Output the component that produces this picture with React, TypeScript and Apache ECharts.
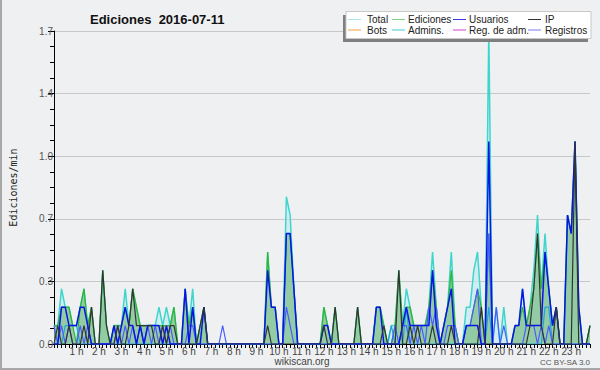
import React, { useEffect, useRef } from "react";
import * as echarts from "echarts";

// 10-minute bins, 144 per day (edits per minute)
const total = [
  0.1, 0.1, 0.3, 0.2, 0.2, 0.1,
  0.1, 0.2, 0.3, 0.1, 0.2, 0,
  0, 0.4, 0.1, 0, 0.1, 0.1,
  0.1, 0.3, 0.1, 0.3, 0.2, 0.1,
  0.1, 0.1, 0.1, 0.1, 0.2, 0.1,
  0.2, 0.1, 0.2, 0, 0, 0.3,
  0.1, 0.3, 0, 0.1, 0.2, 0,
  0, 0, 0, 0, 0, 0,
  0, 0, 0, 0, 0, 0,
  0, 0, 0, 0.5, 0.2, 0.2,
  0, 0, 0.8, 0.7, 0.3, 0,
  0, 0, 0, 0, 0, 0,
  0.2, 0.1, 0, 0.2, 0, 0,
  0, 0, 0, 0.2, 0, 0,
  0, 0, 0.2, 0.2, 0.1, 0,
  0.1, 0.1, 0.4, 0.1, 0.3, 0.2,
  0.1, 0.1, 0.1, 0.1, 0.2, 0.5,
  0.2, 0, 0.1, 0.2, 0.5, 0.1,
  0, 0, 0.2, 0.2, 0.4, 0.5,
  0.2, 0, 1.7, 0, 0.2, 0,
  0.2, 0, 0, 0.1, 0.1, 0.3,
  0.1, 0.2, 0.4, 0.7, 0.3, 0.6,
  0.3, 0.1, 0.2, 0, 0, 0.7,
  0.6, 1.1, 0.2, 0, 0, 0.1,
];
const ediciones = [
  0.1, 0.1, 0.2, 0.2, 0.2, 0.1,
  0, 0.2, 0.3, 0.1, 0.2, 0,
  0, 0.4, 0.1, 0, 0.1, 0.1,
  0.1, 0.2, 0.1, 0.3, 0.2, 0.1,
  0.1, 0.1, 0.1, 0.1, 0.1, 0.1,
  0.1, 0.1, 0.2, 0, 0, 0.3,
  0.1, 0.2, 0, 0.1, 0.2, 0,
  0, 0, 0, 0, 0, 0,
  0, 0, 0, 0, 0, 0,
  0, 0, 0, 0.5, 0.2, 0.2,
  0, 0, 0.6, 0.6, 0.3, 0,
  0, 0, 0, 0, 0, 0,
  0.2, 0.1, 0, 0.2, 0, 0,
  0, 0, 0, 0.2, 0, 0,
  0, 0, 0.2, 0.2, 0.1, 0,
  0, 0.1, 0.4, 0.1, 0.2, 0.2,
  0.1, 0.1, 0.1, 0.1, 0.2, 0.4,
  0.2, 0, 0.1, 0.2, 0.4, 0.1,
  0, 0, 0.1, 0.1, 0.2, 0.3,
  0.2, 0, 0.6, 0, 0, 0,
  0, 0, 0, 0.1, 0.1, 0.2,
  0.1, 0.2, 0.3, 0.6, 0.3, 0.5,
  0.3, 0.1, 0.2, 0, 0, 0.7,
  0.6, 1.1, 0.2, 0, 0, 0.1,
];
const usuarios = [
  0, 0, 0.2, 0.2, 0.1, 0.1,
  0.1, 0.2, 0.2, 0.1, 0, 0,
  0, 0, 0, 0, 0.1, 0,
  0.1, 0.2, 0.1, 0.1, 0, 0.1,
  0, 0.1, 0.1, 0.1, 0.1, 0,
  0.1, 0, 0, 0, 0, 0.3,
  0, 0.2, 0, 0, 0.2, 0,
  0, 0, 0, 0, 0, 0,
  0, 0, 0, 0, 0, 0,
  0, 0, 0, 0.4, 0.2, 0.2,
  0, 0, 0.6, 0.6, 0.3, 0,
  0, 0, 0, 0, 0, 0,
  0.1, 0.1, 0, 0, 0, 0,
  0, 0, 0, 0, 0, 0,
  0, 0, 0.2, 0.2, 0, 0,
  0, 0, 0, 0.1, 0.2, 0.1,
  0.1, 0.1, 0.1, 0.1, 0.1, 0.4,
  0.1, 0, 0.1, 0.2, 0.3, 0,
  0, 0, 0.1, 0.1, 0.1, 0.1,
  0, 0, 1.1, 0, 0, 0,
  0, 0, 0, 0.1, 0.1, 0.3,
  0.1, 0.1, 0.1, 0.1, 0.1, 0.5,
  0.3, 0.1, 0.2, 0, 0, 0.7,
  0.6, 1.1, 0.2, 0, 0, 0,
];
const ip = [
  0, 0.1, 0, 0, 0.1, 0,
  0, 0, 0.1, 0, 0.2, 0,
  0, 0.4, 0.1, 0, 0, 0.1,
  0, 0, 0.1, 0.3, 0.1, 0.1,
  0.1, 0.1, 0.1, 0, 0, 0.1,
  0, 0.1, 0.1, 0, 0, 0,
  0, 0, 0, 0.1, 0.2, 0,
  0, 0, 0, 0, 0, 0,
  0, 0, 0, 0, 0, 0,
  0, 0, 0, 0.1, 0, 0,
  0, 0, 0, 0, 0, 0,
  0, 0, 0, 0, 0, 0,
  0.1, 0, 0, 0.2, 0, 0,
  0, 0, 0, 0.2, 0, 0,
  0, 0, 0, 0, 0.1, 0,
  0, 0, 0.4, 0, 0, 0.1,
  0, 0.1, 0, 0, 0, 0.1,
  0, 0, 0, 0, 0.1, 0,
  0, 0, 0, 0, 0, 0,
  0.2, 0, 0, 0, 0, 0,
  0, 0, 0, 0, 0, 0,
  0, 0.1, 0.3, 0.6, 0.1, 0,
  0, 0, 0.2, 0, 0, 0,
  0, 1.1, 0, 0, 0, 0.1,
];
const admins = [
  0, 0, 0, 0.1, 0.1, 0.1,
  0.1, 0, 0, 0, 0, 0,
  0, 0, 0, 0, 0, 0,
  0, 0, 0, 0, 0, 0,
  0, 0, 0, 0, 0, 0,
  0, 0, 0, 0, 0, 0,
  0, 0, 0, 0, 0, 0,
  0, 0, 0, 0, 0, 0,
  0, 0, 0, 0, 0, 0,
  0, 0, 0, 0, 0, 0,
  0, 0, 0.6, 0.6, 0.3, 0,
  0, 0, 0, 0, 0, 0,
  0, 0, 0, 0, 0, 0,
  0, 0, 0, 0, 0, 0,
  0, 0, 0, 0, 0, 0,
  0.1, 0, 0, 0, 0.2, 0,
  0, 0, 0, 0, 0, 0,
  0, 0, 0, 0, 0, 0,
  0, 0, 0, 0, 0, 0,
  0, 0, 0.2, 0, 0, 0,
  0, 0, 0, 0, 0, 0,
  0, 0, 0, 0, 0, 0.2,
  0.2, 0, 0, 0, 0, 0,
  0, 0, 0, 0, 0, 0,
];
const registros = [
  0.1, 0, 0.1, 0, 0.1, 0,
  0, 0.1, 0, 0.1, 0, 0,
  0, 0, 0, 0, 0, 0.1,
  0, 0.1, 0, 0.1, 0, 0.1,
  0, 0.1, 0, 0.1, 0, 0.1,
  0, 0.1, 0, 0, 0, 0,
  0.1, 0.1, 0, 0, 0, 0,
  0, 0, 0, 0.1, 0, 0,
  0, 0, 0, 0, 0, 0,
  0, 0, 0, 0, 0, 0,
  0, 0, 0.2, 0.1, 0, 0,
  0, 0, 0, 0, 0, 0,
  0, 0, 0, 0, 0, 0,
  0, 0, 0, 0, 0, 0,
  0, 0, 0, 0, 0, 0,
  0, 0.1, 0, 0.1, 0.1, 0,
  0.1, 0, 0.1, 0, 0.2, 0.1,
  0.2, 0, 0, 0.1, 0.1, 0.1,
  0, 0, 0.1, 0.1, 0.2, 0.3,
  0, 0, 0.6, 0, 0.2, 0,
  0.1, 0, 0, 0, 0, 0,
  0.1, 0.1, 0.1, 0, 0.1, 0,
  0.1, 0, 0, 0, 0, 0,
  0, 0, 0, 0, 0, 0,
];
const bots: number[] = [];
const regAdm: number[] = [];

const binsPerHour = 6;
const categories = total.map((_, i) => String(i));
const yTicks = [0, 0.34, 0.68, 1.02, 1.36, 1.7];

const legendItems = [
  { name: "Total", color: "#a8e6e6" },
  { name: "Ediciones", color: "#7ed47e" },
  { name: "Usuarios", color: "#3a3ae6" },
  { name: "IP", color: "#333333" },
  { name: "Bots", color: "#f0a040" },
  { name: "Admins.", color: "#40c8d8" },
  { name: "Reg. de adm.", color: "#cc44cc" },
  { name: "Registros", color: "#7a7aee" },
];

export default function App() {
  const ref = useRef<HTMLDivElement>(null);
  useEffect(() => {
    if (!ref.current) return;
    const chart = echarts.init(ref.current, undefined, { renderer: "svg" });
    const font = '"Liberation Sans", Arial, sans-serif';
    const colX = [348, 392, 453, 528];
    const textX = [367, 408, 469, 545];
    const rowY = [19.5, 30];
    const legendEls: any[] = [
      { type: "rect", shape: { x: 343, y: 15, width: 245, height: 27 }, style: { fill: "#7f7f7f" }, z: 100 },
      { type: "rect", shape: { x: 346, y: 11.5, width: 245, height: 27 }, style: { fill: "#ffffff", stroke: "#c8c8c8", lineWidth: 1 }, z: 101 },
    ];
    legendItems.forEach((it, k) => {
      const r = Math.floor(k / 4);
      const c = k % 4;
      legendEls.push({
        type: "line",
        shape: { x1: colX[c], y1: rowY[r], x2: colX[c] + 13, y2: rowY[r] },
        style: { stroke: it.color, lineWidth: 1 },
        z: 102,
      });
      legendEls.push({
        type: "text",
        style: { text: it.name, x: textX[c], y: rowY[r], font: `10px ${font}`, fill: "#222", verticalAlign: "middle" },
        z: 102,
      });
    });

    const lineSeries = (name: string, data: number[], color: string, width: number, area?: string, z = 2) => ({
      name,
      type: "line",
      data,
      symbol: "none",
      z,
      lineStyle: { color, width },
      itemStyle: { color },
      areaStyle: area ? { color: area, opacity: 1 } : undefined,
    });

    chart.setOption({
      animation: false,
      backgroundColor: "#eff0f1",
      title: {
        text: "Ediciones\u00a0 2016-07-11",
        left: 85,
        top: 8,
        textStyle: { fontFamily: font, fontSize: 13, fontWeight: "bold", color: "#111" },
      },
      grid: { left: 46, right: 10, top: 31, bottom: 26 },
      xAxis: {
        type: "category",
        data: categories,
        boundaryGap: false,
        axisLine: { lineStyle: { color: "#000", width: 1 } },
        axisTick: { show: true, interval: 0, length: 4, inside: false, lineStyle: { color: "#000" } },
        axisLabel: {
          interval: (i: number) => i > 0 && i % binsPerHour === 0,
          formatter: (v: string) => `${Number(v) / binsPerHour} h`,
          fontFamily: font,
          fontSize: 10,
          color: "#444",
          margin: 2,
        },
        splitLine: { show: false },
      },
      yAxis: {
        type: "value",
        min: 0,
        max: 1.7,
        interval: 0.34,
        name: "Ediciones/min",
        nameLocation: "middle",
        nameGap: 36,
        nameRotate: 90,
        nameTextStyle: { fontFamily: '"DejaVu Sans Mono", monospace', fontSize: 10, color: "#222" },
        axisLine: { show: true, lineStyle: { color: "#000", width: 1 } },
        axisTick: { show: true, length: 6, lineStyle: { color: "#000" } },
        minorTick: { show: true, splitNumber: 4, length: 4, lineStyle: { color: "#000" } },
        axisLabel: {
          formatter: (v: number) => v.toFixed(1),
          fontFamily: font,
          fontSize: 10,
          color: "#555",
          margin: 1,
          customValues: yTicks,
        },
        splitLine: { show: true, lineStyle: { color: "#c8c8c8", width: 1 } },
      },
      graphic: [
        ...legendEls,
        { type: "line", shape: { x1: 1, y1: 0, x2: 1, y2: 370 }, style: { stroke: "#a8a8a8", lineWidth: 2 }, z: 100 },
        { type: "line", shape: { x1: 0, y1: 369, x2: 600, y2: 369 }, style: { stroke: "#a8a8a8", lineWidth: 2 }, z: 100 },
        {
          type: "text",
          style: { text: "wikiscan.org", x: 302, y: 361.5, font: `10px ${font}`, fill: "#444", align: "center", verticalAlign: "middle" },
          z: 100,
        },
        {
          type: "text",
          style: { text: "CC BY-SA 3.0", x: 590, y: 362, font: `8px ${font}`, fill: "#555", align: "right", verticalAlign: "middle" },
          z: 100,
        },
      ],
      series: [
        lineSeries("Total", total, "#3ed6cc", 1.5, "rgba(190,235,242,0.6)", 1),
        lineSeries("Ediciones", ediciones, "#33b533", 1.2, "rgba(70,165,70,0.45)", 2),
        lineSeries("Bots", bots, "#f0a040", 1, undefined, 3),
        lineSeries("Admins.", admins, "#20a4d8", 1.2, undefined, 3),
        lineSeries("Reg. de adm.", regAdm, "#cc44cc", 1, undefined, 3),
        lineSeries("Registros", registros, "#4a5cff", 1.2, undefined, 4),
        lineSeries("Usuarios", usuarios, "#0a14e6", 1.5, undefined, 5),
        lineSeries("IP", ip, "#333333", 1.2, undefined, 6),
      ],
    });
    return () => chart.dispose();
  }, []);
  return <div ref={ref} style={{ position: "fixed", left: 0, top: 0, width: 600, height: 370 }} />;
}
